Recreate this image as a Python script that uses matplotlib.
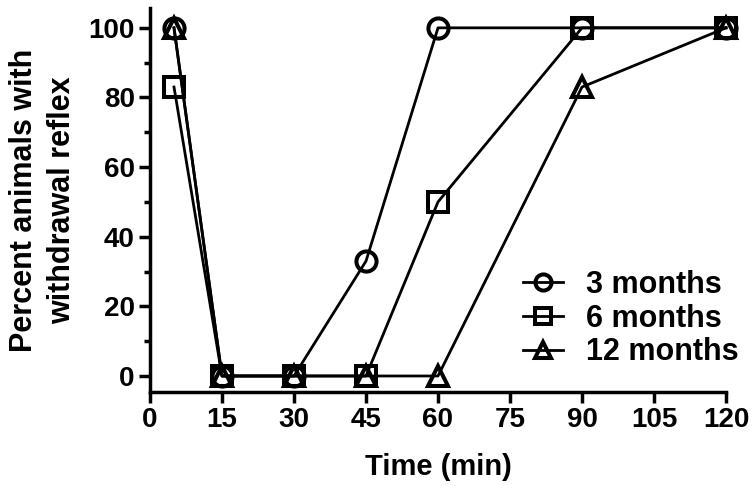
import numpy as np
import matplotlib
matplotlib.use('Agg')
import matplotlib.pyplot as plt

plt.rcParams['font.family'] = ['Liberation Sans', 'DejaVu Sans']
plt.rcParams['font.weight'] = 'bold'

time = [5, 15, 30, 45, 60, 90, 120]
months3 = [100, 0, 0, 33, 100, 100, 100]
months6 = [83, 0, 0, 0, 50, 100, 100]
months12 = [100, 0, 0, 0, 0, 83, 100]
labels = ['3 months', '6 months', '12 months']
markers = ['o', 's', '^']
xticks = np.arange(0, 121, 15)
yticks = np.arange(0, 101, 20)

fig = plt.figure(figsize=(7.56, 4.88), dpi=100)
ax = fig.add_axes([150/756, (488-392)/488, (726-150)/756, (392-8)/488])

for yy, lab, mk in zip([months3, months6, months12], labels, markers):
    ax.plot(time, yy, color='black', lw=2.0, marker=mk, ms=14.5,
            mfc='none', mec='black', mew=2.9, label=lab, clip_on=False)

ax.set_xlim(0, 120)
ax.set_ylim(-4.6, 105.7)
ax.set_xticks(xticks)
ax.set_yticks(yticks)
ax.set_yticks(np.arange(10, 100, 20), minor=True)
ax.spines['top'].set_visible(False)
ax.spines['right'].set_visible(False)
for s in ['left', 'bottom']:
    ax.spines[s].set_linewidth(2.5)
ax.tick_params(axis='both', which='major', width=2.5, length=8, labelsize=20, pad=3)
ax.tick_params(axis='y', which='minor', width=2.5, length=4.5)
for t in ax.get_xticklabels() + ax.get_yticklabels():
    t.set_fontweight('bold')

ax.set_xlabel('Time (min)', fontsize=21, fontweight='bold', va='center')
ax.xaxis.set_label_coords(0.5, (392-467)/384)
ax.set_ylabel('Percent animals with\nwithdrawal reflex', fontsize=22,
              fontweight='bold', va='center', linespacing=1.35)
ax.yaxis.set_label_coords((43-150)/576, 0.5)

leg = ax.legend(loc='upper left', bbox_to_anchor=((523-150)/576, (392-270)/384),
                frameon=False, fontsize=22, handlelength=1.3, markerscale=0.8,
                handletextpad=0.75, labelspacing=0.12, borderpad=0, borderaxespad=0)

fig.savefig('out.png', dpi=100)
